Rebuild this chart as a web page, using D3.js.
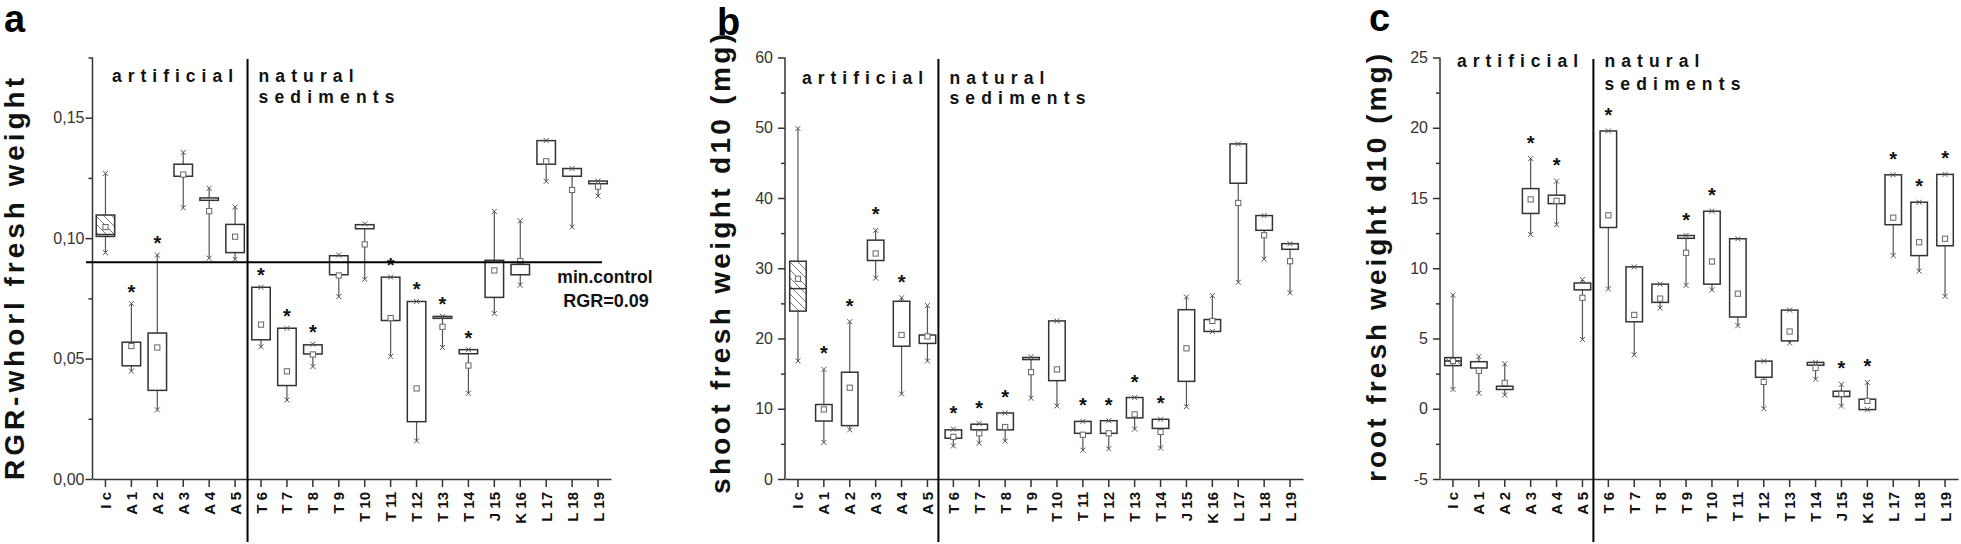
<!DOCTYPE html>
<html><head><meta charset="utf-8">
<script src="https://cdn.jsdelivr.net/npm/d3@7"></script>
<style>
body{margin:0;background:#fff;}
svg{display:block;}
text{font-family:"Liberation Sans", Arial, Helvetica, sans-serif;}
</style>
</head><body>
<svg id="chart" width="1961" height="544"></svg>
<script>
// ---------- shared categories ----------
const categories = ["I c","A 1","A 2","A 3","A 4","A 5","T 6","T 7","T 8","T 9","T 10","T 11","T 12","T 13","T 14","J 15","K 16","L 17","L 18","L 19"];

// ---------- panel a : RGR-whorl fresh weight ----------
const rgrWhiskerLow  = [0.094,0.0448,0.0287,0.1126,0.0917,0.0912,0.0549,0.0328,0.0467,0.0757,0.0829,0.0509,0.0158,0.0546,0.0356,0.0687,0.0805,0.1236,0.1046,0.1175];
const rgrQ1          = [0.1007,0.047,0.0368,0.1257,0.1157,0.094,0.0578,0.0388,0.0519,0.0848,0.1039,0.0658,0.0238,0.0667,0.052,0.0754,0.0848,0.1307,0.1257,0.1226];
const rgrMedian      = [0.1015,null,null,null,null,null,null,null,null,null,null,null,null,null,null,null,null,null,null,null];
const rgrQ3          = [0.1096,0.0568,0.0606,0.1307,0.1167,0.1057,0.0796,0.0626,0.0557,0.0927,0.1056,0.0838,0.0737,0.0675,0.0537,0.0908,0.0891,0.1405,0.1289,0.1237];
const rgrWhiskerHigh = [0.1269,0.0728,0.093,0.1356,0.1207,0.1129,0.0796,0.0626,0.056,0.093,0.1059,0.0838,0.0737,0.0675,0.0537,0.1111,0.1072,0.1405,0.1289,0.1237];
const rgrMean        = [0.1046,0.0552,0.0546,0.1264,0.1112,0.1006,0.0641,0.0447,0.0517,0.0845,0.0974,0.0668,0.0376,0.0632,0.0471,0.0866,0.0905,0.1319,0.12,0.1214];
const rgrStar        = [0,1,1,0,0,0,1,1,1,0,0,1,1,1,1,0,0,0,0,0];
const rgrTicks       = [0,0.05,0.10,0.15];
const rgrTickLabels  = ["0,00","0,05","0,10","0,15"];
const rgrMinorTicks  = [0.025,0.075,0.125,0.175];
const rgrControl     = 0.09;

// ---------- panel b : shoot fresh weight d10 (mg) ----------
const shootWhiskerLow  = [16.8,5.2,7.0,28.6,12.1,16.8,4.7,5.1,5.4,11.5,10.4,4.1,4.3,7.1,4.4,10.3,21.0,28.0,31.3,26.5];
const shootQ1          = [23.9,8.25,7.6,31.1,18.9,19.3,5.8,7.0,7.0,17.0,14.0,6.5,6.5,8.7,7.2,13.9,21.0,42.1,35.4,32.7];
const shootMedian      = [27.1,null,null,null,null,null,null,null,null,null,null,null,null,null,null,null,null,null,null,null];
const shootQ3          = [31.0,10.6,15.2,34.0,25.3,20.5,7.0,7.8,9.4,17.3,22.5,8.2,8.3,11.6,8.5,24.1,22.7,47.7,37.5,33.5];
const shootWhiskerHigh = [49.9,15.6,22.4,35.4,25.8,24.7,7.1,7.9,9.4,17.4,22.5,8.2,8.3,11.6,8.5,25.9,26.1,47.7,37.5,33.5];
const shootMean        = [28.5,9.9,13.0,32.1,20.5,20.3,6.0,6.5,7.4,15.2,15.6,6.3,6.5,9.2,6.7,18.6,22.5,39.3,34.7,31.0];
const shootStar        = [0,1,1,1,1,0,1,1,1,0,0,1,1,1,1,0,0,0,0,0];
const shootTicks       = [0,10,20,30,40,50,60];
const shootTickLabels  = ["0","10","20","30","40","50","60"];
const shootMinorTicks  = [5,15,25,35,45,55];

// ---------- panel c : root fresh weight d10 (mg) ----------
const rootWhiskerLow  = [1.37,1.1,0.98,12.4,13.1,4.93,8.53,3.84,7.17,8.78,8.46,5.91,0.0,4.68,2.1,0.19,-0.06,10.9,9.8,8.0];
const rootQ1          = [3.07,2.9,1.37,13.9,14.6,8.46,12.9,6.19,7.57,12.13,8.87,6.53,2.24,4.83,3.1,0.87,-0.06,13.1,10.9,11.6];
const rootMedian      = [3.4,null,null,null,null,null,null,null,null,null,null,null,null,null,null,null,null,null,null,null];
const rootQ3          = [3.64,3.35,1.6,15.67,15.2,8.95,19.77,10.1,8.87,12.33,14.06,12.1,3.39,7.02,3.3,1.25,0.68,16.65,14.7,16.68];
const rootWhiskerHigh = [8.09,3.72,3.2,17.8,16.2,9.2,19.77,10.1,8.87,12.33,14.06,12.1,3.39,7.02,3.3,1.74,1.87,16.65,14.7,16.68];
const rootMean        = [3.4,2.7,1.84,14.9,14.8,7.9,13.77,6.68,7.84,11.1,10.48,8.19,1.91,5.5,2.9,1.05,0.56,13.6,11.85,12.1];
const rootStar        = [0,0,0,1,1,0,1,0,0,1,1,0,0,0,0,1,1,1,1,1];
const rootTicks       = [-5,0,5,10,15,20,25];
const rootTickLabels  = ["-5","0","5","10","15","20","25"];
const rootMinorTicks  = [-2.5,2.5,7.5,12.5,17.5,22.5];

// ---------- drawing ----------
const svg = d3.select("#chart");
const defs = svg.append("defs");
const pat = defs.append("pattern").attr("id","hatch").attr("patternUnits","userSpaceOnUse")
  .attr("width",8).attr("height",8);
pat.append("rect").attr("width",8).attr("height",8).attr("fill","#fff");
pat.append("path").attr("d","M-2,-2 L10,10 M-2,6 L2,10 M6,-2 L10,2").attr("stroke","#777").attr("stroke-width",1);

const TOP = 57.5, BOTTOM = 479;

function drawPanel(p) {
  const g = svg.append("g");
  const y = d3.scaleLinear().domain(p.domain).range([BOTTOM, TOP]);
  const x = d3.scaleBand().domain(categories).range([p.x0, p.x1]).padding(0);
  const cx = c => x(c) + x.bandwidth() / 2;

  // minor ticks
  const minor = g.append("g").attr("transform", `translate(${p.x0},0)`)
    .call(d3.axisLeft(y).tickValues(p.minor).tickSize(4).tickSizeOuter(0).tickFormat(""));
  minor.select(".domain").remove();
  // major axis
  const yAx = g.append("g").attr("transform", `translate(${p.x0},0)`)
    .call(d3.axisLeft(y).tickValues(p.ticks).tickSize(7).tickSizeOuter(0)
      .tickFormat((d, i) => p.tickLabels[i]));
  yAx.selectAll("text").attr("x", -7 - p.labelGap).style("font-size", "16px").attr("fill", "#333");
  [minor, yAx].forEach(a => {
    a.selectAll("line").attr("stroke", "#333").attr("stroke-width", 1.5);
    a.selectAll(".domain").attr("stroke", "#333").attr("stroke-width", 1.5);
  });
  yAx.select(".domain").attr("d", `M0,${BOTTOM}V${TOP}`);

  const xAx = g.append("g").attr("transform", `translate(0,${BOTTOM})`)
    .call(d3.axisBottom(x).tickSize(8).tickSizeOuter(0));
  xAx.selectAll("line").attr("stroke", "#333").attr("stroke-width", 1.5);
  xAx.select(".domain").attr("stroke", "#333").attr("stroke-width", 1.5);
  xAx.selectAll("text").attr("transform", "rotate(-90)").attr("x", -13).attr("y", 5.5).attr("dy", 0)
    .style("text-anchor", "end").style("font-size", "15px").style("font-weight", "bold").attr("fill", "#111");

  const idx = d3.range(categories.length);
  const bw = p.boxW;
  // whiskers
  g.append("g").selectAll("line").data(idx).join("line")
    .attr("x1", i => cx(categories[i])).attr("x2", i => cx(categories[i]))
    .attr("y1", i => y(p.wl[i])).attr("y2", i => y(p.wh[i]))
    .attr("stroke", "#555").attr("stroke-width", 1.2);
  // boxes
  g.append("g").selectAll("rect").data(idx).join("rect")
    .attr("x", i => cx(categories[i]) - bw / 2).attr("width", bw)
    .attr("y", i => y(p.q3[i])).attr("height", i => Math.max(1.5, y(p.q1[i]) - y(p.q3[i])))
    .attr("fill", i => i === 0 ? "url(#hatch)" : "#fff")
    .attr("stroke", "#333").attr("stroke-width", 1.5);
  // medians
  g.append("g").selectAll("line").data(idx.filter(i => p.med[i] != null)).join("line")
    .attr("x1", i => cx(categories[i]) - bw / 2).attr("x2", i => cx(categories[i]) + bw / 2)
    .attr("y1", i => y(p.med[i])).attr("y2", i => y(p.med[i]))
    .attr("stroke", "#333").attr("stroke-width", 1.5);
  // whisker end marks (small x)
  const xm = (px, py) => `M${px-2.5},${py-2.5}L${px+2.5},${py+2.5}M${px-2.5},${py+2.5}L${px+2.5},${py-2.5}`;
  g.append("g").selectAll("path").data(idx).join("path")
    .attr("d", i => xm(cx(categories[i]), y(p.wh[i])) + xm(cx(categories[i]), y(p.wl[i])))
    .attr("stroke", "#555").attr("stroke-width", 1).attr("fill", "none");
  // means
  g.append("g").selectAll("rect").data(idx).join("rect")
    .attr("x", i => cx(categories[i]) - 2.6).attr("y", i => y(p.mean[i]) - 2.6)
    .attr("width", 5.2).attr("height", 5.2)
    .attr("fill", "#fff").attr("stroke", "#666").attr("stroke-width", 1);
  // stars
  g.append("g").selectAll("text").data(idx.filter(i => p.star[i])).join("text")
    .attr("x", i => cx(categories[i])).attr("y", i => y(p.wh[i]) - p.starOff)
    .attr("text-anchor", "middle").style("font-size", "20px").style("font-weight", "bold")
    .attr("fill", "#111").text("*");

  // divider between artificial and natural
  const dx = (cx(categories[5]) + cx(categories[6])) / 2 + p.divShift;
  g.append("line").attr("x1", dx).attr("x2", dx).attr("y1", 59).attr("y2", 542)
    .attr("stroke", "#000").attr("stroke-width", 2);

  // group labels
  const lab = (t, xx, yy, len) => g.append("text").attr("x", xx).attr("y", yy)
    .attr("textLength", len).attr("lengthAdjust", "spacing")
    .style("font-size", "17.5px").style("font-weight", "bold").attr("fill", "#111").text(t);
  lab("artificial", p.artX, p.labY1, 121);
  lab("natural", dx + 11, p.labY1, 95);
  lab("sediments", dx + 11, p.labY2, 136);

  // y title
  g.append("text").attr("transform", `translate(${p.titleX},${p.titleCY}) rotate(-90)`)
    .attr("text-anchor", "middle").attr("textLength", p.titleLen).attr("lengthAdjust", "spacing")
    .style("font-size", "28px").style("font-weight", "bold").attr("fill", "#111").text(p.title);
  // panel letter
  g.append("text").attr("x", p.letterX).attr("y", p.letterY)
    .style("font-size", "38px").style("font-weight", "bold").attr("fill", "#000").text(p.letter);

  return {g, x, y, cx, dx};
}

const pa = drawPanel({
  domain: [0, 0.175], ticks: rgrTicks, tickLabels: rgrTickLabels, minor: rgrMinorTicks,
  x0: 92.5, x1: 611, labelGap: 1, boxW: 18.5, starOff: 5,
  wl: rgrWhiskerLow, q1: rgrQ1, med: rgrMedian, q3: rgrQ3, wh: rgrWhiskerHigh, mean: rgrMean, star: rgrStar,
  divShift: -0.5, artX: 112, labY1: 82, labY2: 103,
  title: "RGR-whorl fresh weight", titleX: 23.5, titleCY: 279, titleLen: 402,
  letter: "a", letterX: 4, letterY: 32
});
// minimal control line
pa.g.append("line").attr("x1", 86).attr("x2", 602)
  .attr("y1", pa.y(rgrControl)).attr("y2", pa.y(rgrControl))
  .attr("stroke", "#000").attr("stroke-width", 2);
pa.g.append("text").attr("x", 605).attr("y", 283).attr("text-anchor", "middle")
  .style("font-size", "17.5px").style("font-weight", "bold").attr("fill", "#111").text("min.control");
pa.g.append("text").attr("x", 606).attr("y", 307).attr("text-anchor", "middle")
  .style("font-size", "18px").style("font-weight", "bold").attr("fill", "#111").text("RGR=" + rgrControl.toFixed(2));

drawPanel({
  domain: [0, 60], ticks: shootTicks, tickLabels: shootTickLabels, minor: shootMinorTicks,
  x0: 785, x1: 1303, labelGap: 5, boxW: 16.5, starOff: 9,
  wl: shootWhiskerLow, q1: shootQ1, med: shootMedian, q3: shootQ3, wh: shootWhiskerHigh, mean: shootMean, star: shootStar,
  divShift: -2, artX: 802, labY1: 84, labY2: 104,
  title: "shoot fresh weight d10 (mg)", titleX: 730, titleCY: 264, titleLen: 460,
  letter: "b", letterX: 717, letterY: 35
});

drawPanel({
  domain: [-5, 25], ticks: rootTicks, tickLabels: rootTickLabels, minor: rootMinorTicks,
  x0: 1440, x1: 1958, labelGap: 5, boxW: 16.5, starOff: 9,
  wl: rootWhiskerLow, q1: rootQ1, med: rootMedian, q3: rootQ3, wh: rootWhiskerHigh, mean: rootMean, star: rootStar,
  divShift: -2, artX: 1457, labY1: 67, labY2: 90,
  title: "root fresh weight d10 (mg)", titleX: 1386, titleCY: 268, titleLen: 428,
  letter: "c", letterX: 1369, letterY: 31
});
</script>
</body></html>
